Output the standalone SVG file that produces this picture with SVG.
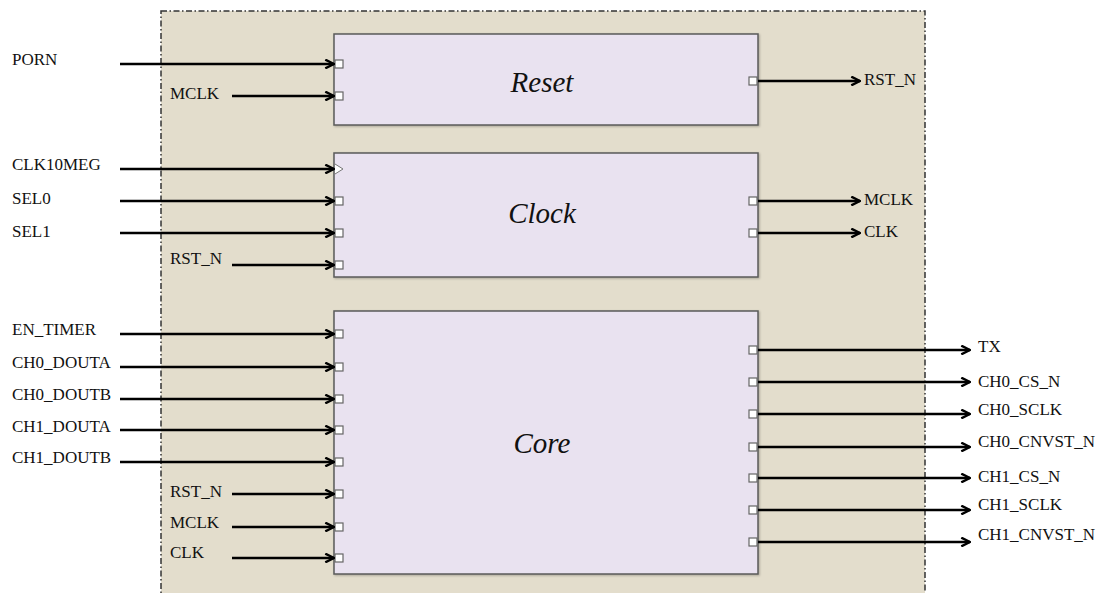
<svg xmlns="http://www.w3.org/2000/svg" width="1098" height="593" viewBox="0 0 1098 593">
<defs>
<style>
.lbl{font-family:"Liberation Serif","Times New Roman",serif;font-size:17px;fill:#111}
.title{font-family:"Liberation Serif","Times New Roman",serif;font-size:29px;font-style:italic;fill:#111;text-anchor:middle}
.blk{fill:#e9e2f0;stroke:#5a5a5a;stroke-width:1.5}
.port{fill:#ffffff;stroke:#666;stroke-width:1.2}
.wire{stroke:#000;stroke-width:2.6;fill:none;marker-end:url(#arr)}
</style>
<marker id="arr" viewBox="0 0 10 10" refX="9" refY="5" markerWidth="4.2" markerHeight="4.2" orient="auto" markerUnits="strokeWidth">
<path d="M1,1 L9,5 L1,9" fill="none" stroke="#000" stroke-width="2.2"/>
</marker>
<filter id="sh" x="-5%" y="-5%" width="110%" height="110%">
<feDropShadow dx="1" dy="1" stdDeviation="1" flood-color="#000" flood-opacity="0.25"/>
</filter>
</defs>
<rect width="1098" height="593" fill="#ffffff"/>
<g id="boundary">
<rect x="161" y="11" width="764" height="600" fill="#e3ddcc" stroke="#333" stroke-width="1.5" stroke-dasharray="6 2.5 1.5 2.5"/>
</g>
<g id="reset">
<rect class="blk" x="334" y="34" width="424" height="91" filter="url(#sh)"/>
<text class="title" x="542" y="92">Reset</text>
<rect class="port" x="335" y="60" width="8" height="8"/>
<rect class="port" x="335" y="92" width="8" height="8"/>
<rect class="port" x="749" y="77" width="8" height="8"/>
</g>
<g id="clock">
<rect class="blk" x="334" y="153" width="424" height="124" filter="url(#sh)"/>
<text class="title" x="542" y="223">Clock</text>
<path d="M335,164 L343,169 L335,174" fill="#fff" stroke="#777" stroke-width="1"/>
<rect class="port" x="335" y="197" width="8" height="8"/>
<rect class="port" x="335" y="229" width="8" height="8"/>
<rect class="port" x="335" y="261" width="8" height="8"/>
<rect class="port" x="749" y="197" width="8" height="8"/>
<rect class="port" x="749" y="229" width="8" height="8"/>
</g>
<g id="core">
<rect class="blk" x="334" y="311" width="424" height="263" filter="url(#sh)"/>
<text class="title" x="542" y="453">Core</text>
<rect class="port" x="335" y="330" width="8" height="8"/>
<rect class="port" x="335" y="363" width="8" height="8"/>
<rect class="port" x="335" y="395" width="8" height="8"/>
<rect class="port" x="335" y="426" width="8" height="8"/>
<rect class="port" x="335" y="458" width="8" height="8"/>
<rect class="port" x="335" y="490" width="8" height="8"/>
<rect class="port" x="335" y="523" width="8" height="8"/>
<rect class="port" x="335" y="554" width="8" height="8"/>
<rect class="port" x="749" y="346" width="8" height="8"/>
<rect class="port" x="749" y="378" width="8" height="8"/>
<rect class="port" x="749" y="410" width="8" height="8"/>
<rect class="port" x="749" y="443" width="8" height="8"/>
<rect class="port" x="749" y="474" width="8" height="8"/>
<rect class="port" x="749" y="506" width="8" height="8"/>
<rect class="port" x="749" y="538" width="8" height="8"/>
</g>
<g id="connectors">
<line class="wire" x1="120" y1="64" x2="334" y2="64"/>
<line class="wire" x1="232" y1="96" x2="334" y2="96"/>
<line class="wire" x1="758" y1="81" x2="860" y2="81"/>
<line class="wire" x1="120" y1="169" x2="334" y2="169"/>
<line class="wire" x1="120" y1="201" x2="334" y2="201"/>
<line class="wire" x1="120" y1="233" x2="334" y2="233"/>
<line class="wire" x1="232" y1="265" x2="334" y2="265"/>
<line class="wire" x1="758" y1="201" x2="860" y2="201"/>
<line class="wire" x1="758" y1="233" x2="860" y2="233"/>
<line class="wire" x1="120" y1="334" x2="334" y2="334"/>
<line class="wire" x1="120" y1="367" x2="334" y2="367"/>
<line class="wire" x1="120" y1="399" x2="334" y2="399"/>
<line class="wire" x1="120" y1="430" x2="334" y2="430"/>
<line class="wire" x1="120" y1="462" x2="334" y2="462"/>
<line class="wire" x1="232" y1="494" x2="334" y2="494"/>
<line class="wire" x1="232" y1="527" x2="334" y2="527"/>
<line class="wire" x1="232" y1="558" x2="334" y2="558"/>
<line class="wire" x1="758" y1="350" x2="970" y2="350"/>
<line class="wire" x1="758" y1="382" x2="970" y2="382"/>
<line class="wire" x1="758" y1="414" x2="970" y2="414"/>
<line class="wire" x1="758" y1="447" x2="970" y2="447"/>
<line class="wire" x1="758" y1="478" x2="970" y2="478"/>
<line class="wire" x1="758" y1="510" x2="970" y2="510"/>
<line class="wire" x1="758" y1="542" x2="970" y2="542"/>
</g>
<g id="labels">
<text class="lbl" x="12" y="65">PORN</text>
<text class="lbl" x="170" y="99">MCLK</text>
<text class="lbl" x="864" y="85">RST_N</text>
<text class="lbl" x="12" y="170">CLK10MEG</text>
<text class="lbl" x="12" y="204">SEL0</text>
<text class="lbl" x="12" y="237">SEL1</text>
<text class="lbl" x="170" y="264">RST_N</text>
<text class="lbl" x="864" y="205">MCLK</text>
<text class="lbl" x="864" y="237">CLK</text>
<text class="lbl" x="12" y="335">EN_TIMER</text>
<text class="lbl" x="12" y="368">CH0_DOUTA</text>
<text class="lbl" x="12" y="400">CH0_DOUTB</text>
<text class="lbl" x="12" y="432">CH1_DOUTA</text>
<text class="lbl" x="12" y="463">CH1_DOUTB</text>
<text class="lbl" x="170" y="497">RST_N</text>
<text class="lbl" x="170" y="528">MCLK</text>
<text class="lbl" x="170" y="558">CLK</text>
<text class="lbl" x="978" y="352">TX</text>
<text class="lbl" x="978" y="387">CH0_CS_N</text>
<text class="lbl" x="978" y="415">CH0_SCLK</text>
<text class="lbl" x="978" y="447">CH0_CNVST_N</text>
<text class="lbl" x="978" y="482">CH1_CS_N</text>
<text class="lbl" x="978" y="510">CH1_SCLK</text>
<text class="lbl" x="978" y="540">CH1_CNVST_N</text>
</g>
</svg>
